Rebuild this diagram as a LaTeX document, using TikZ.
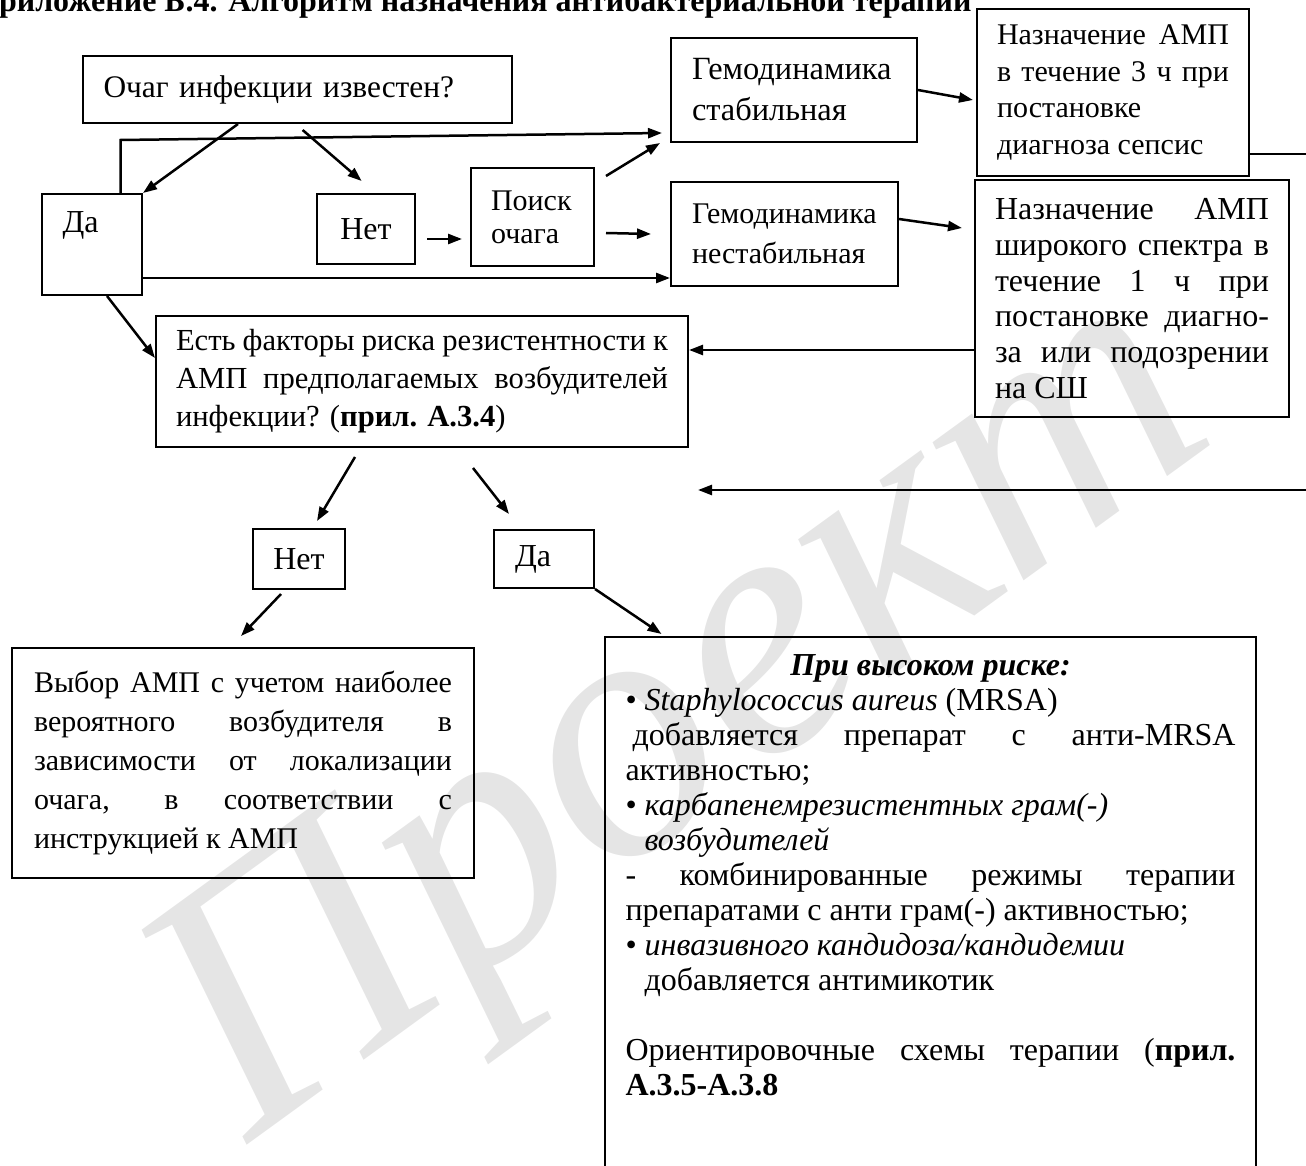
\documentclass[tikz,border=0pt]{standalone}
\usepackage{fontspec}
\setmainfont{Liberation Serif}
\usetikzlibrary{arrows.meta}
\newcommand{\shrift}[2]{\fontsize{#1}{#2}\selectfont}

\begin{document}
\begin{tikzpicture}[x=0.5pt,y=-0.5pt,
		>={Triangle[length=7pt,width=5pt]},
		blok/.style={draw,line width=1pt,inner sep=0pt,align=left,font={\shrift{16pt}{18.5pt}}},
		strelka/.style={->,line width=1.25pt}]
		\useasboundingbox (0,0) rectangle (1306,1166);
		\clip (0,0) rectangle (1306,1166);
		
		%\node (znak) watermark
		\node[rotate=36,text=black!10,font={\itshape\shrift{180pt}{180pt}}] (znak) at (690,725) {Проект};
		\node[anchor=base east,inner sep=0pt,font={\bfseries\shrift{16pt}{18pt}}] (titul) at (972,12) {Приложение Б.4. Алгоритм назначения антибактериальной терапии};
		
		\node[blok,minimum width=214.5pt,minimum height=33.5pt,text width=194pt,font={\shrift{15.7pt}{18.5pt}}] (ochag) at (297.5,89.5) {Очаг инфекции известен?};
		\node[blok,minimum width=50pt,minimum height=50.5pt,text width=29.5pt,text height=11pt,text depth=22.5pt] (da) at (92,244.5) {Да};
		\node[blok,minimum width=49pt,minimum height=35pt,align=center] (net) at (366,229) {Нет};
		\node[blok,minimum width=61.5pt,minimum height=49pt,text width=41.5pt,font={\shrift{15pt}{16.5pt}}] (poisk) at (532.5,217) {Поиск\\очага};
		\node[blok,minimum width=123pt,minimum height=52pt,text width=102pt,font={\shrift{16.2pt}{20.5pt}}] (gemst) at (794,90) {Гемодинамика\\стабильная};
		\node[blok,minimum width=113.5pt,minimum height=52pt,text width=92.5pt,font={\shrift{15pt}{20pt}}] (gemnst) at (784.5,234) {Гемодинамика\\нестабильная};
		\node[blok,minimum width=136pt,minimum height=83.5pt,text width=116pt,align=justify,font={\shrift{15pt}{18.3pt}}] (nazn3) at (1113,92.5) {Назначение АМП\linebreak в течение 3 ч при\linebreak постановке\newline диагноза сепсис};
		\node[blok,minimum width=157pt,minimum height=118.5pt,text width=137pt,align=justify,font={\shrift{16pt}{17.9pt}}] (nazn1) at (1132,298.5) {Назначение АМП\linebreak широкого спектра в\linebreak течение 1 ч при\linebreak постановке диагно-\linebreak за или подозрении\linebreak на СШ};
		\node[blok,minimum width=266pt,minimum height=65.5pt,text width=246pt,align=justify,font={\shrift{15.3pt}{19pt}}] (est) at (422,381.5) {Есть факторы риска резистентности к\linebreak АМП предполагаемых возбудителей\linebreak инфекции? (\textbf{прил. А.3.4})};
		\node[blok,minimum width=46pt,minimum height=30pt,align=center] (net2) at (299,559) {Нет};
		\node[blok,minimum width=50pt,minimum height=29pt,text width=29pt] (da2) at (544,559) {Да};
		\node[blok,minimum width=231pt,minimum height=115pt,text width=209pt,align=justify,font={\shrift{15pt}{19.5pt}}] (vybor) at (243,763) {Выбор АМП с учетом наиболее\linebreak вероятного возбудителя в\linebreak зависимости от локализации\linebreak очага, в соответствии с\linebreak инструкцией к АМП};
		\node[blok,anchor=north,minimum width=325.5pt,text width=305pt,inner ysep=9pt,align=justify,font={\shrift{16pt}{17.5pt}}] (risk) at (930.5,636) {\parindent=0pt
			{\centering\bfseries\itshape При высоком риске:\par}
			• \textit{Staphylococcus aureus} (MRSA)\par
			\hspace*{3.5pt}добавляется препарат с анти-MRSA\linebreak активностью;\par
			• \textit{карбапенемрезистентных грам(-)}\newline\hspace*{9.5pt}\textit{возбудителей}\par
			- комбинированные режимы терапии\linebreak препаратами с анти грам(-) активностью;\par
			• \textit{инвазивного кандидоза/кандидемии}\newline\hspace*{9.5pt}добавляется антимикотик\par
			\vspace{17.5pt}
			Ориентировочные схемы терапии (\textbf{прил.}\linebreak \textbf{А.3.5-А.3.8}\par
			\rule{0pt}{60pt}};
		
		\coordinate (vyhod) at (1320,154);
		\coordinate (vhod) at (1320,490);
		\coordinate (vhodkon) at (698,490);
		
		\draw[strelka] ([xshift=78pt]ochag.south west) -- (da.north east);
		\draw[strelka] ([xshift=110.3pt,yshift=-3pt]ochag.south west) -- ([xshift=-2.2pt,yshift=6pt]net.north);
		\draw[strelka] ([xshift=14.25pt]da.north) -- ++(0,-53) -- ([xshift=-4pt,yshift=-21.5pt]gemst.west);
		\draw[strelka] ([yshift=-16.75pt]da.east) -- ([yshift=-22pt]gemnst.west);
		\draw[strelka] ([xshift=7.5pt]da.south) -- ([yshift=11.75pt]est.west);
		\draw[strelka] ([xshift=5.5pt,yshift=-5pt]net.east) -- ([xshift=-4pt,yshift=-11pt]poisk.west);
		\draw[strelka] ([xshift=5.5pt,yshift=-4.5pt]poisk.north east) -- ([xshift=-5pt]gemst.south west);
		\draw[strelka] ([xshift=5.5pt,yshift=-8pt]poisk.east) -- ([xshift=-9.5pt]gemnst.west);
		\draw[strelka] (gemst.east) -- ([xshift=-1.5pt,yshift=-3.75pt]nazn3.west);
		\draw[strelka] ([yshift=7.5pt]gemnst.east) -- ([xshift=-6pt,yshift=35.25pt]nazn1.west);
		\draw[strelka] ([yshift=-25.75pt]nazn1.west) -- ([yshift=15.75pt]est.east);
		\draw[line width=1.25pt] ([yshift=-30.75pt]nazn3.east) -- (vyhod);
		\draw[strelka] (vhod) -- (vhodkon);
		\draw[strelka] ([xshift=-33.5pt,yshift=-4.5pt]est.south) -- ([xshift=9pt,yshift=3.5pt]net2.north);
		\draw[strelka] ([xshift=25.5pt,yshift=-10pt]est.south) -- ([xshift=-17.5pt,yshift=7.5pt]da2.north);
		\draw[strelka] ([xshift=-9pt,yshift=-2pt]net2.south) -- ([xshift=-1pt,yshift=5.5pt]vybor.north);
		\draw[strelka] (da2.south east) -- ([xshift=28.75pt,yshift=1pt]risk.north west);
	\end{tikzpicture}
\end{document}
